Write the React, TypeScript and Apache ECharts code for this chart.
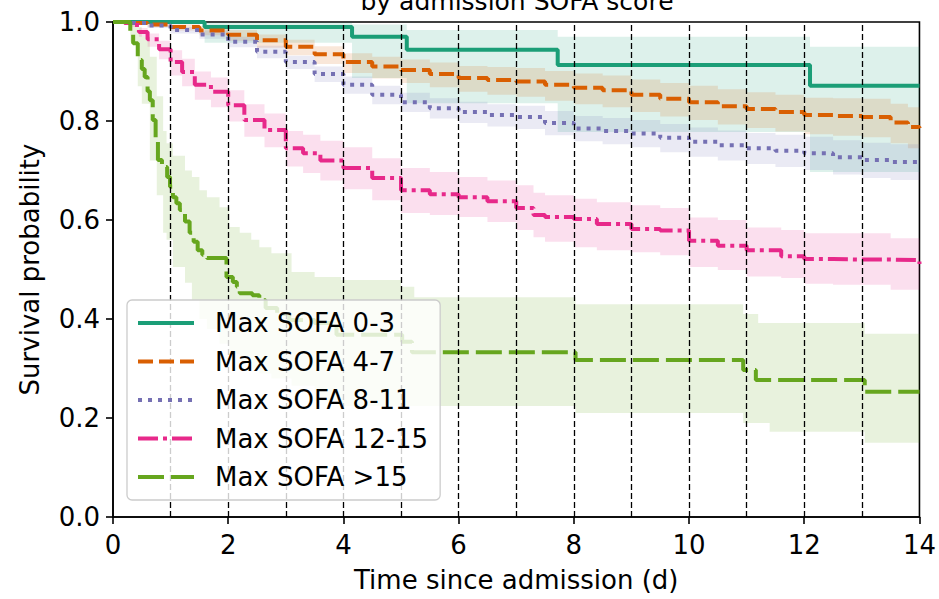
import React, { useEffect, useRef } from "react";
import * as echarts from "echarts";

const groupNames = ["Max SOFA 0-3", "Max SOFA 4-7", "Max SOFA 8-11", "Max SOFA 12-15", "Max SOFA >15"];
const lineColors = ["#1b9e77", "#d95f02", "#7570b3", "#e7298a", "#66a61e"];
const bandColors = [
  "rgba(27,158,119,0.15)",
  "rgba(217,95,2,0.15)",
  "rgba(117,112,179,0.15)",
  "rgba(231,41,138,0.15)",
  "rgba(102,166,30,0.15)",
];
const dashTypes: any[] = ["solid", [15, 6], [4, 6], [20, 5, 4, 5], [26, 7]];

const xTicks = [0, 2, 4, 6, 8, 10, 12, 14];
const yTicks = [0, 0.2, 0.4, 0.6, 0.8, 1.0];
const vLines = [1, 2, 3, 4, 5, 6, 7, 8, 9, 10, 11, 12, 13];

// SOFA 0-3
const t03 = [0, 1.59, 4.15, 5.1, 7.72, 12.1, 14];
const s03 = [1.0, 0.99, 0.97, 0.944, 0.913, 0.871, 0.871];
const lo03 = [1.0, 0.958, 0.887, 0.836, 0.778, 0.697, 0.697];
const hi03 = [1.0, 0.999, 0.995, 0.984, 0.97, 0.95, 0.95];

// SOFA 4-7
const t47 = [0, 0.3, 0.6, 1.0, 1.5, 2.0, 2.5, 3.0, 3.5, 4.0, 4.5, 5.0, 5.5, 6.0, 6.5, 7.0, 7.5, 8.0, 8.5, 9.0, 9.5, 10.0, 10.5, 11.0, 11.5, 12.0, 12.5, 13.0, 13.5, 13.8, 14];
const s47 = [1.0, 0.998, 0.995, 0.99, 0.983, 0.974, 0.963, 0.95, 0.935, 0.919, 0.91, 0.903, 0.895, 0.887, 0.883, 0.88, 0.873, 0.867, 0.862, 0.853, 0.845, 0.838, 0.83, 0.824, 0.818, 0.812, 0.81, 0.808, 0.797, 0.788, 0.786];
const lo47 = [1.0, 0.994, 0.99, 0.983, 0.973, 0.962, 0.948, 0.933, 0.915, 0.897, 0.886, 0.877, 0.868, 0.859, 0.853, 0.849, 0.841, 0.834, 0.828, 0.818, 0.809, 0.802, 0.793, 0.786, 0.779, 0.773, 0.77, 0.767, 0.755, 0.745, 0.743];
const hi47 = [1.0, 0.999, 0.998, 0.995, 0.991, 0.984, 0.975, 0.964, 0.951, 0.937, 0.93, 0.924, 0.918, 0.911, 0.909, 0.907, 0.901, 0.896, 0.892, 0.884, 0.877, 0.871, 0.864, 0.858, 0.853, 0.847, 0.846, 0.845, 0.835, 0.828, 0.826];

// SOFA 8-11
const t811 = [0, 0.3, 0.6, 1.0, 1.5, 2.0, 2.5, 3.0, 3.5, 4.0, 4.5, 5.0, 5.5, 6.0, 6.5, 7.0, 7.5, 8.0, 8.5, 9.0, 9.5, 10.0, 10.5, 11.0, 11.5, 12.0, 12.5, 13.0, 13.5, 14];
const s811 = [1.0, 0.998, 0.993, 0.984, 0.975, 0.96, 0.94, 0.919, 0.895, 0.873, 0.853, 0.838, 0.826, 0.818, 0.812, 0.808, 0.796, 0.785, 0.78, 0.775, 0.766, 0.758, 0.751, 0.745, 0.74, 0.735, 0.727, 0.721, 0.717, 0.715];
const lo811 = [1.0, 0.995, 0.988, 0.977, 0.966, 0.949, 0.927, 0.905, 0.879, 0.855, 0.834, 0.818, 0.805, 0.796, 0.789, 0.784, 0.771, 0.759, 0.753, 0.747, 0.737, 0.728, 0.72, 0.713, 0.707, 0.701, 0.692, 0.685, 0.681, 0.679];
const hi811 = [1.0, 0.999, 0.997, 0.99, 0.983, 0.97, 0.952, 0.932, 0.91, 0.89, 0.871, 0.857, 0.846, 0.839, 0.834, 0.831, 0.82, 0.81, 0.806, 0.802, 0.794, 0.787, 0.781, 0.776, 0.772, 0.768, 0.761, 0.756, 0.753, 0.752];

// SOFA 12-15
const t1215 = [0, 0.2, 0.3, 0.45, 0.6, 0.8, 1.0, 1.2, 1.42, 1.7, 2.0, 2.28, 2.63, 3.0, 3.3, 3.6, 4.0, 4.5, 5.0, 5.5, 6.0, 6.5, 7.0, 7.3, 7.5, 8.0, 8.4, 9.0, 9.5, 10.0, 10.5, 11.0, 11.6, 12.0, 12.5, 13.0, 13.5, 14];
const s1215 = [1.0, 0.998, 0.994, 0.98, 0.965, 0.945, 0.919, 0.899, 0.873, 0.859, 0.832, 0.802, 0.782, 0.745, 0.735, 0.72, 0.705, 0.685, 0.66, 0.652, 0.646, 0.638, 0.624, 0.61, 0.606, 0.602, 0.592, 0.582, 0.579, 0.558, 0.548, 0.539, 0.527, 0.521, 0.52, 0.52, 0.519, 0.511];
const lo1215 = [1.0, 0.995, 0.99, 0.97, 0.95, 0.925, 0.892, 0.87, 0.843, 0.828, 0.799, 0.768, 0.747, 0.708, 0.695, 0.68, 0.662, 0.64, 0.614, 0.61, 0.606, 0.596, 0.58, 0.565, 0.556, 0.545, 0.539, 0.535, 0.529, 0.505, 0.499, 0.486, 0.483, 0.471, 0.469, 0.469, 0.459, 0.459];
const hi1215 = [1.0, 1.0, 0.997, 0.988, 0.977, 0.962, 0.943, 0.926, 0.9, 0.888, 0.862, 0.834, 0.815, 0.78, 0.772, 0.76, 0.747, 0.725, 0.705, 0.697, 0.687, 0.68, 0.67, 0.655, 0.65, 0.643, 0.636, 0.63, 0.624, 0.605, 0.6, 0.585, 0.58, 0.573, 0.573, 0.573, 0.563, 0.563];

// SOFA >15
const t15 = [0, 0.3, 0.35, 0.43, 0.5, 0.55, 0.6, 0.64, 0.69, 0.74, 0.78, 0.85, 0.94, 0.99, 1.04, 1.1, 1.16, 1.25, 1.33, 1.4, 1.47, 1.55, 1.63, 1.97, 2.08, 2.15, 2.2, 2.42, 2.54, 2.65, 2.85, 3.06, 3.5, 3.88, 5.02, 5.19, 8.03, 10.94, 11.16, 13.05, 14];
const s15 = [1.0, 0.98, 0.957, 0.923, 0.905, 0.889, 0.86, 0.842, 0.802, 0.76, 0.721, 0.707, 0.687, 0.667, 0.646, 0.634, 0.62, 0.597, 0.574, 0.556, 0.539, 0.53, 0.523, 0.485, 0.475, 0.465, 0.452, 0.448, 0.438, 0.422, 0.41, 0.398, 0.392, 0.368, 0.354, 0.333, 0.317, 0.297, 0.277, 0.253, 0.253];
const bt15 = [0, 0.3, 0.43, 0.5, 0.64, 0.76, 0.87, 0.93, 1.04, 1.25, 1.37, 1.5, 1.63, 1.85, 2.02, 2.2, 2.4, 2.54, 2.75, 3.1, 3.5, 3.96, 5.0, 5.23, 8.03, 10.94, 11.2, 11.4, 13.05, 14];
const lo15 = [1.0, 0.96, 0.87, 0.835, 0.72, 0.65, 0.574, 0.56, 0.505, 0.473, 0.438, 0.4, 0.38, 0.35, 0.33, 0.315, 0.3, 0.29, 0.28, 0.265, 0.235, 0.224, 0.224, 0.224, 0.21, 0.19, 0.19, 0.172, 0.15, 0.15];
const hi15 = [1.0, 1.0, 0.99, 0.97, 0.93, 0.85, 0.78, 0.755, 0.73, 0.7, 0.687, 0.66, 0.646, 0.626, 0.586, 0.574, 0.56, 0.545, 0.533, 0.495, 0.485, 0.479, 0.465, 0.444, 0.43, 0.41, 0.392, 0.392, 0.37, 0.37];

const lineT = [t03, t47, t811, t1215, t15];
const lineS = [s03, s47, s811, s1215, s15];
const bandT = [t03, t47, t811, t1215, bt15];
const bandLo = [lo03, lo47, lo811, lo1215, lo15];
const bandHi = [hi03, hi47, hi811, hi1215, hi15];

const FONT = "DejaVu Sans";
const FS = 26;

function makeBand(t: number[], lo: number[], hi: number[], fill: string) {
  return {
    type: "custom",
    silent: true,
    z: 1,
    clip: true,
    data: t.map((x, i) => [x, lo[i], hi[i]]),
    encode: { x: 0, y: [1, 2] },
    renderItem: (params: any, api: any) => {
      if (params.dataIndex !== 0) return null;
      const pts: number[][] = [];
      const n = t.length;
      for (let i = 0; i < n; i++) {
        const nx = i < n - 1 ? t[i + 1] : t[i];
        pts.push(api.coord([t[i], hi[i]]));
        pts.push(api.coord([nx, hi[i]]));
      }
      for (let i = n - 1; i >= 0; i--) {
        const nx = i < n - 1 ? t[i + 1] : t[i];
        pts.push(api.coord([nx, lo[i]]));
        pts.push(api.coord([t[i], lo[i]]));
      }
      return { type: "polygon", shape: { points: pts }, style: { fill, stroke: null } };
    },
  };
}

export default function App() {
  const ref = useRef<HTMLDivElement>(null);
  useEffect(() => {
    if (!ref.current) return;
    const chart = echarts.init(ref.current, null, { renderer: "svg" });
    const series: any[] = [];
    for (let g = 0; g < 5; g++) {
      series.push(makeBand(bandT[g], bandLo[g], bandHi[g], bandColors[g]));
    }
    for (let g = 0; g < 5; g++) {
      series.push({
        type: "line",
        name: groupNames[g],
        step: "end",
        symbol: "none",
        silent: true,
        z: 3,
        data: lineT[g].map((x, i) => [x, lineS[g][i]]),
        itemStyle: { color: lineColors[g] },
        lineStyle: { color: lineColors[g], width: 4, type: dashTypes[g], cap: "butt" },
        emphasis: { disabled: true },
      });
    }
    series.push({
      type: "line",
      name: "vlines",
      data: [],
      symbol: "none",
      silent: true,
      z: 4,
      markLine: {
        silent: true,
        symbol: ["none", "none"],
        label: { show: false },
        lineStyle: { color: "#000", type: [6, 3], width: 1.3 },
        emphasis: { disabled: true },
        data: vLines.map((v) => ({ xAxis: v })),
      },
    });
    chart.setOption({
      animation: false,
      grid: {
        left: 113,
        right: 17,
        top: 22,
        bottom: 82,
        show: true,
        borderColor: "#000",
        borderWidth: 1.6,
        backgroundColor: "transparent",
      },
      xAxis: {
        type: "value",
        min: xTicks[0],
        max: xTicks[xTicks.length - 1],
        interval: 2,
        name: "Time since admission (d)",
        nameLocation: "middle",
        nameGap: 50,
        nameTextStyle: { fontFamily: FONT, fontSize: FS, color: "#000" },
        axisLine: { show: true, lineStyle: { color: "#000", width: 1.6 } },
        axisTick: { show: true, length: 7, lineStyle: { color: "#000", width: 1.6 } },
        axisLabel: { fontFamily: FONT, fontSize: FS, color: "#000", margin: 15 },
        splitLine: { show: false },
      },
      yAxis: {
        type: "value",
        min: yTicks[0],
        max: yTicks[yTicks.length - 1],
        interval: 0.2,
        name: "Survival probability",
        nameLocation: "middle",
        nameGap: 70,
        nameRotate: 90,
        nameTextStyle: { fontFamily: FONT, fontSize: FS, color: "#000" },
        axisLine: { show: true, lineStyle: { color: "#000", width: 1.6 } },
        axisTick: { show: true, length: 7, lineStyle: { color: "#000", width: 1.6 } },
        axisLabel: {
          fontFamily: FONT,
          fontSize: FS,
          color: "#000",
          margin: 13,
          formatter: (v: number) => v.toFixed(1),
        },
        splitLine: { show: false },
      },
      legend: {
        data: groupNames,
        orient: "vertical",
        left: 127,
        top: 300,
        z: 10,
        itemWidth: 56,
        itemHeight: 14,
        itemGap: 12.5,
        padding: [10, 12, 10, 9],
        backgroundColor: "rgba(255,255,255,0.8)",
        borderColor: "#cccccc",
        borderWidth: 1.3,
        borderRadius: 5,
        selectedMode: false,
        itemStyle: { opacity: 0 },
        lineStyle: { width: 4 },
        textStyle: { fontFamily: FONT, fontSize: FS, color: "#000", padding: [0, 0, 0, 16] },
      },
      graphic: [
        {
          type: "text",
          x: 517,
          y: 1,
          silent: true,
          style: {
            text: "by admission SOFA score",
            fontFamily: FONT,
            fontSize: 25,
            fill: "#000",
            align: "center",
            verticalAlign: "middle",
          },
        },
      ],
      series,
    });
    return () => chart.dispose();
  }, []);
  return (
    <div
      ref={ref}
      style={{ position: "absolute", left: 0, top: 0, width: 939, height: 599, background: "#fff" }}
    />
  );
}
